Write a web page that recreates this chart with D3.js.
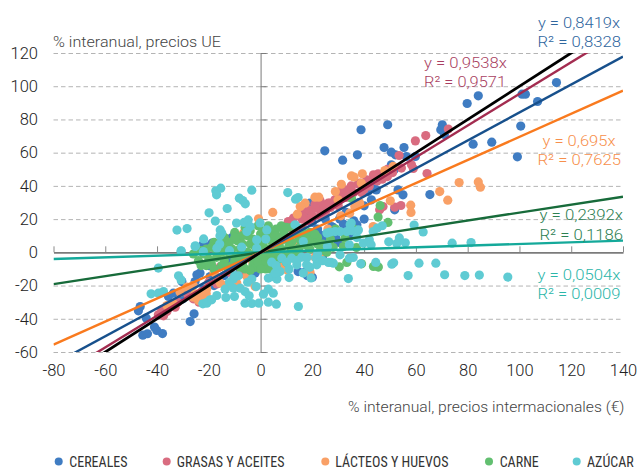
<!DOCTYPE html>
<html><head><meta charset="utf-8">
<script src="https://cdnjs.cloudflare.com/ajax/libs/d3/7.8.5/d3.min.js"></script>
<style>html,body{margin:0;padding:0;background:#fff}svg{display:block}text{font-family:Roboto,"Liberation Sans",Arial,sans-serif;font-weight:300}</style>
</head><body><svg id="c" width="638" height="468"></svg>
<script>
const xTicks=[-80,-60,-40,-20,0,20,40,60,80,100,120,140];
const yTicks=[-60,-40,-20,0,20,40,60,80,100,120];
const cereales=[[114.3,102.2],[102.3,95.2],[101,95.2],[84.1,94.2],[79.8,89.6],[107,90.8],[100.5,76],[70.2,76.8],[69.6,73.8],[71,71],[49.1,76.8],[38.8,73.8],[82.1,65.1],[89.3,66.3],[99.2,57.5],[24.8,61.1],[31.7,55.5],[37.4,58.7],[47.7,63.1],[55.4,63.1],[50.5,60.3],[52.1,58.7],[56.3,57.7],[59.8,57.7],[50.5,52.7],[51.6,49.7],[53.1,37.6],[55,34.6],[65.4,34.8],[42.8,31.6],[44.7,37.6],[43.5,40.6],[41.5,36.6],[51.8,25.6],[30.6,20],[27.4,15.5],[-46.5,-32.6],[-47.2,-35.2],[-44.2,-39.6],[-41,-45],[-40.1,-47],[-37.9,-48.9],[-45.5,-49.9],[-43.7,-49],[-25.7,-37],[-27.2,-41.7],[-30.4,-17.6],[-23.4,-12.5],[-25.3,-17.6],[-33.7,-24.6],[-35.6,-26.6],[-18.8,5.5],[-13.1,7.9],[-15.6,5.5],[-22.1,5.1],[-20,3],[-11,9],[23,10.5],[14.5,-11.6],[17,-12],[-2.1,-12.5],[-24.6,-13.5],[-19.5,-14.6],[19.1,29.6],[30.7,20.8],[37.2,16.6],[-20,-8],[-12,-5],[-8,-12],[5,5],[10,8],[15,12],[18,-14],[22,-6],[25,8],[28,15],[33,24],[20,18],[18,22],[38,30],[35,35],[40,28],[-28,-25],[-18,-20],[-14,-14],[-10,-16],[25,20],[32,12],[35,10],[30,6],[24,-2],[20,-15],[-30,-28],[-22,-22],[32,17],[29,9],[36,19],[40,20],[22,14]];
const grasas=[[72.5,74.2],[63.8,70.3],[59.8,67.1],[53.5,58.3],[58.3,52.7],[59,50.5],[54.4,50.7],[64.3,47.4],[49,45.6],[45.4,47.3],[43.8,45.6],[41,43.6],[37.7,41.2],[34.4,37.2],[31.2,37.2],[28.7,31.6],[26.1,29.6],[24.1,27.6],[22.9,25.6],[51.8,27.2],[54.2,28.2],[47.3,27.6],[46,25.6],[10.7,18.5],[12.7,20.6],[15.9,23.6],[18.5,25.6],[21,26.6],[24.3,28.6],[26.8,29.6],[28.8,31.2],[32.6,37.6],[38.4,41.7],[43.6,46.7],[13.5,16],[17,21],[20,22],[40,38],[47,44],[51,48],[-38.2,-34.6],[-37.5,-38.2],[-39.5,-37.6],[-36.2,-35.6],[-35.6,-33.6],[-23.8,-30],[-16.9,-19],[-5.3,-13],[-7.9,-13],[-15.6,-8.7],[-32,-30],[-28,-26],[-20,-18],[-12,-12],[-8,-6],[5,4],[8,9],[15,14],[-26,-28],[-33,-33],[19,19],[23,22],[25,24],[27,27],[30,28],[33,33],[36,36],[39,36],[42,40],[16,20],[11,15],[21,29],[23,31],[30,34],[35,40],[45,43],[49,50]];
const lacteos=[[39.3,47.3],[35.1,46],[36.1,45.3],[31.2,41],[28.9,36.6],[48,49.2],[51.2,51.7],[76.7,42],[84.1,42.4],[84.9,39.2],[69.2,36.6],[72.3,31.4],[58,28.4],[58.1,24],[50.1,31],[38.9,41.7],[36.4,27.6],[38.3,29.6],[34.4,23.6],[31,22],[43.5,15.5],[29.9,31.6],[21,33.2],[22.5,33.2],[17.2,29.6],[15.3,27.6],[14.2,23],[4.7,24],[-0.8,20.2],[-23.4,-27],[-25.3,-25],[-22,-28],[-31.1,-24],[-28.5,-21],[-20.8,-22],[-16.9,-15],[-33.7,-31],[-36.2,-32],[8.8,-8],[19.1,-12],[21,-3],[22.9,-3.9],[8.2,-8.5],[10.1,-10.5],[-13,-19.6],[-15.6,-18.5],[-22,-25.6],[-24,-29],[-2.1,-20.6],[-9.2,-18.5],[-5.3,-14.6],[23,-3.5],[17.8,4.5],[12.7,1.5],[-6.6,11.6],[-18,-12],[-12,-10],[26,14],[6,-4],[14,6],[-3,-6],[-26,-20],[-26,-27],[-21,-25],[-23,-24]];
const carne=[[46.2,28.2],[45.4,21.2],[49.2,18],[35.1,32.6],[30.4,-8.7],[33.3,-6.1],[39,-6.9],[43.6,-8.5],[45.5,-8.9],[37,2.9],[32,3.5],[25.6,0.1],[32.6,8.7],[-22,-1],[-24,-5],[-20,-4],[-21,2],[-18,6],[-16,3],[-17,-3],[-19,-7],[-14,9],[-13,4],[-12,-1],[-14,-5],[-11,-8],[-10,12],[-9,7],[-8,2],[-9,-3],[-7,-7],[-6,-10],[-6,15],[-5,10],[-4,5],[-5,0],[-3,-4],[-3,-8],[-1,16],[0,11],[0,6],[-1,1],[0,-3],[1,-8],[2,-10],[3,16],[4,12],[4,7],[3,2],[4,-2],[5,-6],[6,-9],[8,16],[9,12],[8,7],[8,2],[9,-3],[10,-6],[12,15],[13,11],[12,6],[13,1],[15,-2],[16,14],[17,10],[16,5],[19,12],[20,7],[19,2],[22,9],[24,5],[27,8],[28,3],[-26,-1],[-15,0],[-2,-9],[14,-5],[11,9],[29,14],[36,14],[-12,6],[-11,2],[-15,-8],[-17,1],[-10,-5],[-7,10],[-7,5],[-6,-3],[-4,13],[-3,8],[-2,3],[-2,-1],[-1,-6],[1,13],[2,9],[1,4],[2,-1],[2,-5],[6,14],[6,10],[6,5],[6,0],[7,-4],[10,15],[11,4],[11,-1],[14,13],[15,8],[15,3],[18,8],[18,4],[21,11],[22,5],[23,1],[26,3],[-13,-9],[-8,-9],[-4,-11],[0,-10],[4,-10],[-23,1],[-19,3],[-10,9],[-9,-7],[-21,-8],[-23,-8],[-18,-10]];
const azucar=[[-17.3,37],[-15.4,38.6],[-17,34.6],[-3.4,37.4],[-8.2,32.6],[-6.9,31.2],[-5.9,29.2],[-12.9,26.4],[-19.9,23.8],[-17.5,18.8],[-32.3,13.4],[-28.4,14.3],[-9.3,17.6],[-6.4,18],[-4.8,19.5],[-15.6,13.5],[-15,11.6],[-15.7,10],[-22,8.1],[-25.2,3.9],[-30.7,0.7],[-15.8,5],[10.5,36],[13.5,32],[14.5,33],[59.3,16.4],[62.8,12.3],[49.5,6.3],[53.6,8.7],[52.6,5.3],[55.9,5.7],[74,5.5],[81.3,5.9],[61.2,-6.5],[67.7,-6.5],[57,-14],[71.1,-13.5],[78.9,-14],[84.5,-13.7],[95.5,-14.9],[50.7,-7.1],[51.4,-6.3],[44.5,-6.1],[38.7,-6.9],[33.9,-15.8],[27.2,-6.1],[28.1,-6.5],[30.7,-1.5],[35.8,-3.1],[34.3,-3.5],[34.3,4.5],[25.8,3.5],[26.8,12.2],[28.8,12.5],[30.7,12.5],[33.3,12.5],[35.2,13.1],[37.8,13.5],[35,17.6],[47,16],[45.1,14.6],[43.5,12.5],[42,7.5],[39.7,5.5],[42.7,4.5],[37.2,8.9],[-42.3,-25],[-39.5,-9.5],[-31.7,-14.1],[-30.7,-16.6],[-30.7,0.9],[-39.5,-24.6],[-37.5,-23.6],[-20.8,-30.6],[-22.3,-31],[-19.5,-28.6],[-13.7,-22.2],[-10.5,-16.1],[-8.6,-14.1],[-13.4,-27.2],[-10.1,-26.6],[-10.5,-21.6],[-7.9,-21.6],[-6,-23.6],[-4.4,-26.2],[-6,-30.6],[-3.4,-30.8],[-0.7,-30.6],[-1.7,-20.6],[-3.4,-16.1],[1.1,-25.2],[3,-22.2],[4.9,-24.6],[3,-30],[6.1,-31.2],[14.6,-32.6],[-16.9,-26],[-20.8,-30.2],[-18.9,-28.6],[3,-15.5],[4.7,-14.6],[6.3,-16.1],[7.5,-11.6],[5.6,-12.5],[11,-15.2],[19.5,-15.4],[16.5,-12.5],[14,-7.5],[17.8,-7.5],[21.7,-7.5],[8.2,-3.5],[12,-3.5],[15.9,-2.9],[21.4,-3.5],[4.3,-5.9],[26.2,-6.1],[-0.2,17.7],[-4,15.5],[-1.5,7.5],[-1.5,2.5],[2.4,13.5],[-7.3,3.1],[-5.3,12.5],[-25.3,3.5],[-22.1,0.5],[-16.9,2.5],[13.3,16.6],[14.6,14.6],[16.5,6.5],[25.6,11.6],[34.6,16.6],[2,8],[-12,1],[10,-6],[14,-5],[18,-3],[22,-1],[24,-5],[19,-9],[11,-10],[6,-8],[-12,-18],[-5,-18],[-10,-14]];
const seriesNames=["CEREALES","GRASAS Y ACEITES","LÁCTEOS Y HUEVOS","CARNE","AZÚCAR"];
const slopes=[0.8419,0.9538,0.695,0.2392,0.0504];
const r2Text=["0,8328","0,9571","0,7625","0,1186","0,0009"];
const slopeText=["0,8419","0,9538","0,695","0,2392","0,0504"];
const dotColors=["#3f7cc2","#d96c80","#f9a066","#62bf70","#5fcbd3"];
const lineColors=["#17508c","#a32c50","#f97a1e","#176b3a","#14a99a"];
const textColors=["#2f669e","#a93f62","#f78f4c","#2d8052","#2cb6a9"];
const identitySlope=1;

const svg=d3.select("#c");
const x=d3.scaleLinear().domain([-80,140]).range([53.5,623]);
const y=d3.scaleLinear().domain([-60,120]).range([352,53]);
const tickFont=g=>g.selectAll("text").attr("font-size",16.5).attr("fill","#222").style("font-family","Roboto").style("font-weight",300);

svg.append("g").attr("transform",`translate(${x(-80)},0)`)
 .call(d3.axisLeft(y).tickValues(yTicks.filter(d=>d!==0)).tickSize(-(x(140)-x(-80))).tickFormat(""))
 .call(g=>g.select(".domain").remove())
 .call(g=>g.selectAll("line").attr("stroke","#b4b4b4").attr("stroke-width",1).attr("stroke-dasharray","4.5 3"));

svg.append("g").attr("transform",`translate(0,${y(0)})`)
 .call(d3.axisTop(x).tickValues(xTicks).tickSizeInner(6).tickSizeOuter(0).tickFormat(""))
 .call(g=>g.select(".domain").attr("stroke","#7b7b7b").attr("stroke-width",1.8))
 .call(g=>g.selectAll("line").attr("stroke","#8a8a8a").attr("stroke-width",1));
svg.append("g").attr("transform",`translate(${x(0)},0)`)
 .call(d3.axisRight(y).tickValues(yTicks).tickSizeInner(6).tickSizeOuter(0).tickFormat(""))
 .call(g=>g.select(".domain").attr("stroke","#7b7b7b").attr("stroke-width",1))
 .call(g=>g.selectAll("line").attr("stroke","#7b7b7b").attr("stroke-width",1));

svg.append("g").attr("transform",`translate(${x(-80)},0)`)
 .call(d3.axisLeft(y).tickValues(yTicks).tickSize(0).tickPadding(15.5).tickFormat(d=>d))
 .call(g=>g.select(".domain").remove()).call(tickFont);
svg.append("g").attr("transform",`translate(0,${y(-60)})`)
 .call(d3.axisBottom(x).tickValues(xTicks).tickSize(0).tickPadding(12).tickFormat(d=>d))
 .call(g=>g.select(".domain").remove()).call(tickFont);

[cereales,grasas,lacteos,carne,azucar].forEach((pts,i)=>{
 svg.append("g").selectAll("circle").data(pts).join("circle")
  .attr("cx",d=>x(d[0])).attr("cy",d=>y(d[1])).attr("r",4.6).attr("fill",dotColors[i]);
});

svg.append("clipPath").attr("id","plot").append("rect")
 .attr("x",x(-80)).attr("y",y(120)).attr("width",x(140)-x(-80)).attr("height",y(-60)-y(120));
const lineG=svg.append("g").attr("clip-path","url(#plot)");
const drawLine=(s,c,w)=>lineG.append("line").attr("x1",x(-80)).attr("y1",y(-80*s)).attr("x2",x(140)).attr("y2",y(140*s)).attr("stroke",c).attr("stroke-width",w);
[4,3,2,0,1].forEach(i=>drawLine(slopes[i],lineColors[i],2.4));
drawLine(identitySlope,"#000",2.8);

const fit=(sel,len)=>sel.attr("textLength",len).attr("lengthAdjust","spacingAndGlyphs");
const eqPos=[[538,28,82,537.5,47,83.5],[424,68,83,424,87,82],[542.5,146,73,537.5,165,83.5],[539.5,220,83.5,539.5,240,83.5],[537.5,280,83,537.5,299,83]];
eqPos.forEach((p,i)=>{
 fit(svg.append("text").attr("x",p[0]).attr("y",p[1]).attr("font-size",15.5).attr("fill",textColors[i]).text(`y = ${slopeText[i]}x`),p[2]);
 fit(svg.append("text").attr("x",p[3]).attr("y",p[4]).attr("font-size",15.5).attr("fill",textColors[i]).text(`R² = ${r2Text[i]}`),p[5]);
});
fit(svg.append("text").attr("x",53).attr("y",46.5).attr("font-size",15).attr("fill","#444").text("% interanual, precios UE"),168);
fit(svg.append("text").attr("x",348).attr("y",412).attr("font-size",15).attr("fill","#444").text("% interanual, precios intermacionales (€)"),276.5);

const lgCx=[58.7,166.7,325.3,489,576.7], lgTx=[69.3,176.7,335.3,499.7,587];
seriesNames.forEach((n,i)=>{
 svg.append("circle").attr("cx",lgCx[i]).attr("cy",461.5).attr("r",4).attr("fill",dotColors[i]);
 svg.append("text").attr("x",lgTx[i]).attr("y",466.5).attr("font-size",14).attr("fill","#333").style("font-family",'"Liberation Sans Narrow","Roboto Condensed","Liberation Sans"').style("font-weight",400).text(n);
});
</script></body></html>
